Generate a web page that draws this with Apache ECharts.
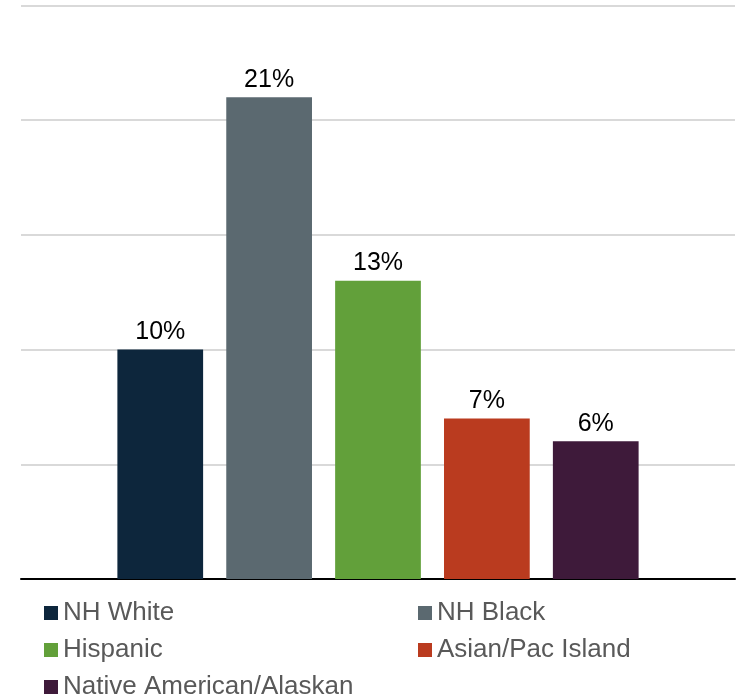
<!DOCTYPE html>
<html>
<head>
<meta charset="utf-8">
<script src="https://cdn.jsdelivr.net/npm/echarts@6/dist/echarts.min.js"></script>
<style>
  html, body { margin: 0; padding: 0; background: #fff; }
  #chart { width: 736px; height: 697px; }
</style>
</head>
<body>
<div id="chart"></div>
<script>
// single category, one bar per group
const categories = ['All'];
const groups = ['NH White', 'NH Black', 'Hispanic', 'Asian/Pac Island', 'Native American/Alaskan'];
const values = [10, 21, 13, 7, 6];
const colors = ['#0d263c', '#5b6970', '#62a03a', '#ba3b1f', '#3e1a3a'];
const yTicks = { min: 0, max: 25, interval: 5 };

const chart = echarts.init(document.getElementById('chart'));

const series = groups.map((name, i) => ({
    name: name,
    type: 'bar',
    data: [values[i]],
    barGap: '27%',
    barCategoryGap: '27%',
    itemStyle: { color: colors[i] },
    label: {
        show: true,
        position: 'top',
        distance: 5,
        formatter: '{c}%',
        color: '#000',
        fontFamily: 'Liberation Sans, Arial, sans-serif',
        fontSize: 25
    }
}));

// legend laid out as two columns, three rows
const legendPos = [[44, 613], [418, 613], [44, 650], [418, 650], [44, 687]];
const legends = groups.map((name, i) => ({
    data: [name],
    left: legendPos[i][0],
    top: legendPos[i][1] - 13,
    padding: 0,
    icon: 'rect',
    itemWidth: 14,
    itemHeight: 14,
    itemGap: 5,
    selectedMode: false,
    textStyle: {
        color: '#595959',
        fontFamily: 'Liberation Sans, Arial, sans-serif',
        fontSize: 26,
        lineHeight: 26
    }
}));

const options = {
    animation: false,
    grid: {
        left: 21,
        right: 1,
        top: 5.5,
        bottom: 118
    },
    legend: legends,
    xAxis: {
        type: 'category',
        data: categories,
        axisLine: { lineStyle: { color: '#000', width: 2 } },
        axisTick: { show: false },
        axisLabel: { show: false }
    },
    yAxis: {
        type: 'value',
        min: yTicks.min,
        max: yTicks.max,
        interval: yTicks.interval,
        axisLabel: { show: false },
        axisLine: { show: false },
        axisTick: { show: false },
        splitLine: { lineStyle: { color: '#d9d9d9', width: 2 } }
    },
    series: series
};

chart.setOption(options, true);
</script>
</body>
</html>
